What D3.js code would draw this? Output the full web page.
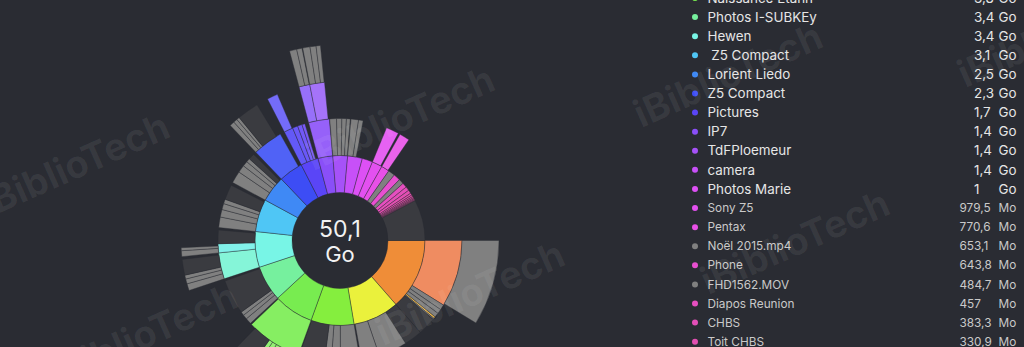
<!DOCTYPE html>
<html>
<head>
<meta charset="utf-8">
<script src="https://cdn.jsdelivr.net/npm/d3@7"></script>
<style>
  body { margin: 0; background: #2a2c33; overflow: hidden; }
  svg { display: block; }
  text { font-family: Inter, "Noto Sans", sans-serif; }
</style>
</head>
<body>
<svg id="chart" width="1024" height="347"></svg>
<script>
// Anneau intérieur : dossiers racine, sens horaire depuis 3 h (tailles en Go)
const topIds   = ['A','B','C','D','E','F','G','H','I','J','K','L','M','N','O','P','Q','R','S','T','U','V','W1','W2','W3','W4','W5','W6','W7','X'];
const topNames = ['','','','Naissance Etann','Photos I-SUBKEy','Hewen',' Z5 Compact','Lorient Liedo','Z5 Compact','Pictures','IP7','TdFPloemeur','camera','Photos Marie','Sony Z5','Pentax','Noël 2015.mp4','Phone','FHD1562.MOV','Diapos Reunion','CHBS','Toit CHBS','','','','','','','',''];
const topSizes = [6.8,4.4,4.1,3.8,3.4,3.4,3.1,2.5,2.3,1.7,1.4,1.4,1.4,1.0,0.9795,0.7706,0.6531,0.6438,0.4847,0.457,0.3833,0.3309,0.2,0.16,0.13,0.11,0.09,0.07,0.05,3.89];
const topKinds = ['folder','folder','folder','folder','folder','folder','folder','folder','folder','folder','folder','folder','folder','folder','folder','folder','file','folder','file','folder','folder','folder','folder','folder','folder','folder','folder','folder','folder','other'];

// Anneaux extérieurs : sous-dossiers et fichiers
const subIds     = ['A1','A1a','A2','A3','A4','A5','A6','A7',
                    'B0','B1','B2',
                    'C1','C2','C3','C4',
                    'D1','D1a','D1b','D1c','D1d',
                    'E1','E2','E3','E4',
                    'F1','F1a','F1b','F1c','F1d','F2','F2a','F2b','F3',
                    'G1','G2','G3','G4','G5',
                    'H1','H2','H3','H4','H5',
                    'I1','I1a','I1b','I1c','I1d',
                    'J1','J1a','J2','J3','J4',
                    'K1','K1a','K1a1','K1a2','K1b','K1b1','K1b2','K1b3',
                    'L1','L2','L3','L4',
                    'M1','M2',
                    'O1','P1'];
const subParents = ['A','A1','A','A','A','A','A','A',
                    'B','B','B',
                    'C','C','C','C',
                    'D','D1','D1','D1','D1',
                    'E','E','E','E',
                    'F','F1','F1','F1','F1','F','F2','F2','F',
                    'G','G','G','G','G',
                    'H','H','H','H','H',
                    'I','I1','I1','I1','I1',
                    'J','J1','J','J','J',
                    'K','K1','K1a','K1a','K1','K1b','K1b','K1b',
                    'L','L','L','L',
                    'M','M',
                    'O','P'];
const subSizes   = [4.45,4.35,0.35,0.3,0.3,0.12,0.08,1.2,
                    1.2,1.9,1.2,
                    1.3,0.6,0.45,1.7,
                    3.7,1.6,0.3,0.25,1.2,
                    0.4,0.3,0.25,2.3,
                    1.74,0.35,0.25,0.2,0.8,0.6,0.3,0.15,0.9,
                    0.7,0.5,0.4,0.3,1.0,
                    0.8,0.5,0.35,0.25,0.4,
                    2.0,0.25,0.2,0.15,1.1,
                    0.6,0.55,0.35,0.3,0.2,
                    1.38,0.55,0.3,0.22,0.75,0.3,0.25,0.18,
                    0.45,0.35,0.3,0.25,
                    0.5,0.3,
                    0.85,0.68];
const subKinds   = ['folder','file','file','file','file','folder','file','other',
                    'other','file','file',
                    'file','file','file','other',
                    'folder','folder','folder','folder','other',
                    'file','file','file','other',
                    'folder','file','file','file','other','folder','file','file','other',
                    'file','file','file','file','other',
                    'file','file','file','file','other',
                    'folder','file','file','file','other',
                    'folder','folder','folder','folder','folder',
                    'folder','folder','file','file','folder','file','file','file',
                    'file','file','file','file',
                    'file','file',
                    'folder','folder'];

// Liste de droite : lignes visibles (index dans l'anneau intérieur)
const listFirst = 3;
const listLast = 21;

// Teinte selon l'angle (degrés depuis 3 h, sens horaire)
const hueAngles = [0, 24, 65, 96, 124, 150, 174, 197, 217, 235, 249, 260, 270, 280, 289, 296, 302, 312, 320, 326, 331, 360];
const hueColors = ['#e9657e','#ef8c38','#eaf23c','#82ee3e','#78ec50','#76f0a0','#78f5e6','#4fc7f5','#3f8af5','#3d4cf5','#5a45f7','#8a4ff8','#a552f8','#c650f8','#dd50f5','#e350f0','#e850e8','#e84fd0','#e64fbf','#e14fae','#dc4f9f','#e9657e'];

const bg = '#2a2c33';
const svg = d3.select('#chart');
svg.append('rect').attr('width', 1024).attr('height', 347).attr('fill', bg);

// hiérarchie
const rows = [{id: 'root', parent: null, size: 0, kind: 'root', name: ''}];
topIds.forEach((id, i) => rows.push({id, parent: 'root', size: topSizes[i], kind: topKinds[i], name: topNames[i]}));
subIds.forEach((id, i) => rows.push({id, parent: subParents[i], size: subSizes[i], kind: subKinds[i], name: ''}));
const childSum = d3.rollup(rows, v => d3.sum(v, d => d.size), d => d.parent);

const root = d3.stratify().id(d => d.id).parentId(d => d.parent)(rows)
  .sum(d => d.kind === 'root' ? 0 : Math.max(0, d.size - (childSum.get(d.id) || 0)));

d3.partition().size([2 * Math.PI, root.height + 1])(root);

const cx = 340, cy = 240.5;
const radius = d3.scaleLinear().domain([1, 5]).range([48, 196]);
const hue = d3.scaleLinear().domain(hueAngles).range(hueColors).interpolate(d3.interpolateRgb);

function color(d) {
  if (d.data.kind === 'file') return '#808080';
  if (d.data.kind === 'other') return '#3a3b40';
  const mid = (d.x0 + d.x1) / 2 * 180 / Math.PI;
  return d3.interpolateRgb(hue(mid), '#ffffff')(0.1 * (d.depth - 1));
}

const arc = d3.arc()
  .startAngle(d => d.x0 + Math.PI / 2)
  .endAngle(d => d.x1 + Math.PI / 2)
  .innerRadius(d => radius(d.y0))
  .outerRadius(d => radius(d.y1));

const sunburst = svg.append('g').attr('transform', `translate(${cx},${cy})`);

sunburst.selectAll('path')
  .data(root.descendants().filter(d => d.depth > 0))
  .enter()
  .append('path')
  .attr('d', arc)
  .attr('fill', color)
  .attr('stroke', bg)
  .attr('stroke-opacity', 0.7)
  .attr('stroke-width', 0.6);

// total au centre
const fmt = v => d3.format('.1f')(v).replace(/\.0$/, '').replace('.', ',');
sunburst.append('text')
  .attr('y', -3.5)
  .attr('text-anchor', 'middle')
  .attr('font-size', 23)
  .attr('fill', '#f2f2f2')
  .text(fmt(root.value));
sunburst.append('text')
  .attr('y', 21.5)
  .attr('text-anchor', 'middle')
  .attr('font-size', 22)
  .attr('fill', '#f2f2f2')
  .text('Go');

// liste
const listNodes = root.children.slice(listFirst, listLast + 1);
const rowY = d3.scaleLinear().domain([0, listNodes.length - 1]).range([-2, 341.7]);

const rowsG = svg.append('g').selectAll('g')
  .data(listNodes)
  .enter()
  .append('g')
  .attr('transform', (d, i) => `translate(0,${rowY(i)})`);

rowsG.append('circle')
  .attr('cx', 695)
  .attr('r', 3)
  .attr('fill', color);

const big = d => d.value >= 1;
const rowSize = d => big(d) ? 13.4 : 11.8;
const rowFill = d => big(d) ? '#e6e6e6' : '#c9c9c9';

rowsG.append('text')
  .attr('x', 707.5)
  .attr('dy', '0.35em')
  .attr('font-size', rowSize)
  .attr('fill', rowFill)
  .style('white-space', 'pre')
  .text(d => d.data.name);

rowsG.append('text')
  .attr('x', d => big(d) ? 974 : 959.5)
  .attr('dy', '0.35em')
  .attr('font-size', rowSize)
  .attr('fill', rowFill)
  .text(d => big(d) ? fmt(d.value) : fmt(d.value * 1000));

rowsG.append('text')
  .attr('x', 998.5)
  .attr('dy', '0.35em')
  .attr('font-size', rowSize)
  .attr('fill', rowFill)
  .text(d => big(d) ? 'Go' : 'Mo');

// filigrane
const marks = [[75,165],[400,118],[143,335],[470,293],[728,75],[795,242],[1052,35],[335,-52]];
svg.append('g').selectAll('text')
  .data(marks)
  .enter()
  .append('text')
  .attr('transform', d => `translate(${d[0]},${d[1]}) rotate(-24)`)
  .attr('text-anchor', 'middle')
  .attr('dy', '0.35em')
  .attr('font-size', 38)
  .attr('font-weight', 700)
  .attr('fill', '#ffffff')
  .attr('fill-opacity', 0.065)
  .text('iBiblioTech');
</script>
</body>
</html>
